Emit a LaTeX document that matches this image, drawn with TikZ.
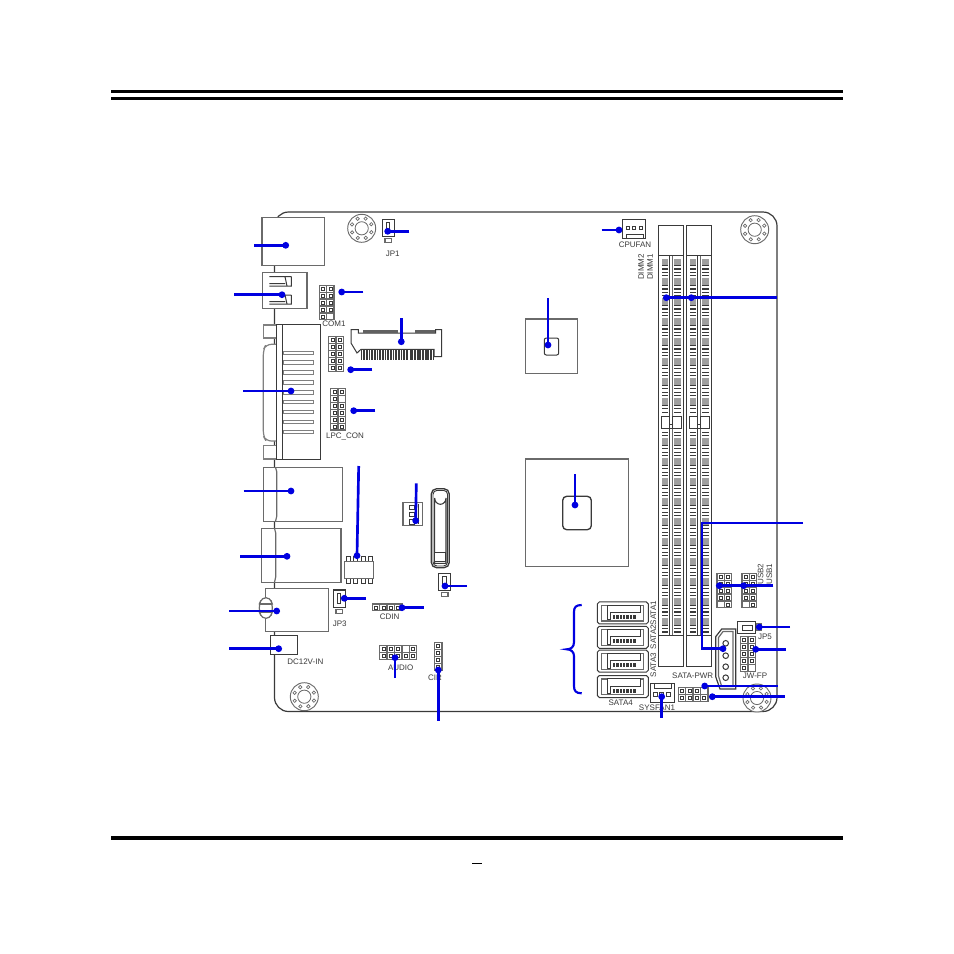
\documentclass[tikz,border=0pt]{standalone}
\usepackage{fontspec}
\setmainfont{Liberation Sans}
\definecolor{ln}{HTML}{3A3A3A}
\definecolor{gl}{HTML}{6A6A6A}
\definecolor{lead}{HTML}{0000E0}
\tikzset{
  part/.style={draw=ln,line width=0.75pt,fill=white},
  partg/.style={draw=gl,line width=0.9pt,fill=white},
  leadline/.style={draw=lead,line width=2pt},
  lbl/.style={font=\fontsize{6}{6}\selectfont,text=ln,inner sep=0pt},
  pinbox/.style={draw=ln,line width=0.55pt,fill=white},
  pincell/.style={draw=gl,line width=1pt,fill=white}
}
\newcommand{\hdrblock}[5]{%
  \foreach \c in {0,...,#3}{\foreach \r in {0,...,#4}{
    \draw[pincell] ({#1+\c*7.4},{#2+\r*6.9}) rectangle ++(7.4,6.9);
    \draw[pinbox] ({#1+\c*7.4+2.2},{#2+\r*6.9+2}) rectangle ++(3,3);
  }}
  \foreach \c/\r in {#5}{
    \fill[white] ({#1+\c*7.4+1},{#2+\r*6.9+1}) rectangle ++(5.4,4.9);
  }
}
\newcommand{\mhole}[2]{%
  \draw[part,draw=gl,line width=0.7pt] (#1,#2) circle (14);
  \draw[part,draw=gl,line width=0.6pt] (#1,#2) circle (6.6);
  \foreach \a in {0,45,...,315}{\draw[part,draw=gl,line width=0.5pt] ({#1+10.4*cos(\a+22)},{#2+10.4*sin(\a+22)}) circle (1.7);}
}
\newcommand{\jumper}[2]{% x,y of the top-left of a 12x17 jumper
  \draw[partg,draw=ln] (#1,#2) rectangle ++(12,17.5);
  \draw[part] ({#1+4},{#2+3.5}) rectangle ++(3.6,10);
  \draw[partg] ({#1+2.7},{#2+19.5}) rectangle ++(6.5,3.6);
}
\newcommand{\satabox}[2]{%
  \begin{scope}[shift={(#1,#2)}]
    \draw[part] (0,2)--(2,0)--(49,0)--(51,2)--(51,20)--(49,22)--(2,22)--(0,20)--cycle;
    \draw[partg,fill=none] (4.5,3.5)--(4.5,19)--(46.5,19)--(46.5,3.5)--cycle;
    \draw[part] (10,3.3)--(42.7,3.3)--(42.7,10.5)--(12.7,10.5)--(12.7,18)--(10,18)--cycle;
    \foreach \i in {0,...,6}{\fill[ln] ({15.4+\i*3.4},13) rectangle ++(2.4,4);}
  \end{scope}
}
\newcommand{\dimmslot}[1]{%
  \begin{scope}[shift={(#1,0)}]
    \draw[part] (0,225) rectangle (25.4,666);
    \draw[part] (0,255.7)--(25.4,255.7);
    \draw[part] (0,635)--(25.4,635);
    \draw[ln,line width=1pt] (11,255.7)--(11,635);
    \draw[gl,line width=0.8pt] (14.4,255.7)--(14.4,635);
    \foreach \i in {0,...,113}{
      \pgfmathsetmacro\yy{258.5+3.33*\i}
      \pgfmathtruncatemacro\gg{mod(\i,6)<2?1:0}
      \pgfmathtruncatemacro\sk{and(\yy>414,\yy<428.5)?1:0}
      \ifnum\sk=0
        \ifnum\gg=1
          \fill[gray!75] (3.4,\yy) rectangle ++(6.6,3.33);
          \fill[gray!75] (15.4,\yy) rectangle ++(7,3.33);
        \else
          \fill[ln] (3.4,\yy) rectangle ++(6.6,1.1);
          \fill[ln] (15.4,\yy) rectangle ++(7,1.1);
        \fi
      \fi
    }
    \draw[part] (2.7,416.2) rectangle (11.3,428);
    \draw[part] (14,416.2) rectangle (22.7,428);
    \draw[part] (11,424) rectangle (14,428);
  \end{scope}
}
\newcommand{\leader}[5]{% name, dot x,y, free x,y
  \coordinate (#1d) at (#2,#3);
  \coordinate (#1f) at (#4,#5);
  \draw[leadline] (#1f)--(#1d);
  \fill[lead] (#1d) circle (3.4);
}
\begin{document}
\begin{tikzpicture}[x=0.75pt,y=-0.75pt]
\useasboundingbox (0,0) rectangle (954,954);
\fill[white] (0,0) rectangle (954,954);
% page rules
\fill[black] (111,90) rectangle (843,92.8);
\fill[black] (111,97) rectangle (843,99.8);
\fill[black] (111,835.8) rectangle (843,840);
\fill[black] (472,862.8) rectangle (482,864);
% board
\draw[ln,line width=0.9pt,rounded corners=10.5pt] (274.5,212) rectangle (777,711.5);
% mount holes
\mhole{361.7}{228.3}\mhole{754.7}{229.7}\mhole{304.3}{696.7}\mhole{757}{698}
% HDMI
\draw[partg] (262,217.3) rectangle (324.7,265.3);
% USB
\draw[partg] (262.7,272.3) rectangle (307,308.7);
\draw[part,fill=none] (291.3,276.7)--(269.3,276.7) (269.3,283.5)--(285,283.5) (285,276.7)--(287,286)--(269.3,286) (291.3,276.7)--(291.3,286)--(287,286);
\draw[part,fill=none] (291.3,295)--(269.3,295)   (269.3,301.5)--(285,301.5) (285,295)--(287,304)--(269.3,304) (291.3,295)--(291.3,304)--(287,304);
% VGA
\draw[partg,draw=gray,rounded corners=4pt] (276.7,344.3)--(266,344.3)--(263.3,350)--(263.3,436)--(266,441)--(276.7,441);
\draw[partg,draw=gray] (263.3,325) rectangle (281.7,338);
\draw[partg,draw=gray] (263.3,445.7) rectangle (281.7,459);
\draw[part] (276.7,324.3) rectangle (320.7,459.7);
\draw[part] (282,324.3)--(282,459.7);
\foreach \i in {0,...,8}{\draw[partg,draw=gray,line width=0.7pt] (283.3,{351+9.87*\i}) rectangle ++(30.4,3.6);}
% LAN
\draw[partg] (263.3,467.3) rectangle (342.3,521.3);
\draw[partg,fill=none] (275.5,467.3)--(276.8,472)--(276.8,516)--(275.5,521.3);
\draw[partg] (261.7,528.3) rectangle (341,582.3);
\draw[partg,fill=none] (274.5,528.3)--(275.7,533)--(275.7,577)--(274.5,582.3);
% Audio jack
\draw[partg] (265.3,588.3) rectangle (328.3,631.3);
\draw[partg,rounded corners=3pt] (262,597.7)--(270,597.7)--(272.3,604)--(272.3,612)--(270,618.3)--(262,618.3)--(259.3,612)--(259.3,604)--cycle;
\draw[partg,fill=none] (260,604)--(272,604) (260,612)--(272,612);
% DC
\draw[partg,draw=ln] (270.7,635.3) rectangle (297.3,654.3);
% jumpers
\jumper{382.3}{219.3}
\jumper{333.3}{590}
\jumper{438.8}{573.3}
% headers
\hdrblock{319.3}{285.3}{1}{4}{1/4}
\hdrblock{328.7}{336.7}{1}{4}{}
\hdrblock{330.7}{388.7}{1}{5}{1/1}
\hdrblock{372.3}{603.9}{3}{0}{}
\hdrblock{379.7}{645.6}{4}{1}{3/0}
\hdrblock{434.5}{642.6}{0}{3}{}
\hdrblock{716.9}{573.3}{1}{4}{0/4}
\hdrblock{741.9}{573.3}{1}{4}{0/4}
\hdrblock{740.5}{636.8}{1}{4}{1/4}
\hdrblock{678.3}{687.5}{3}{1}{3/0}
% mini PCIe
\draw[part] (351,329.7)--(358.3,329.7)--(358.3,333)--(435.7,333)--(435.7,329.7)--(441.7,329.7)--(441.7,356.7)--(434,356.7)--(434,349.3)--(361,349.3)--(357,353)--(351,343)--cycle;
\fill[ln!80] (363.3,329.6) rectangle (398.3,332.8);
\fill[ln!80] (415,329.6) rectangle (435,332.8);
\foreach \i in {0,...,29}{\draw[ln,line width=0.8pt] ({361.5+1.6*\i},349.3)--++(0,10.7);}
\foreach \i in {0,...,14}{\draw[ln,line width=0.8pt] ({411+1.6*\i},349.3)--++(0,10.7);}
% SoCs
\draw[partg] (525.7,319) rectangle (577.3,373.3);
\draw[part,rounded corners=1.5pt] (544.3,338) rectangle (558.7,355);
\draw[partg] (525.7,459) rectangle (628.3,566.7);
\draw[part,rounded corners=3pt,line width=1pt] (562.7,496.3) rectangle (591.3,529.7);
% 8-pin chip
\foreach \i in {0,...,3}{
  \draw[part] ({346.3+\i*7.4},556.7) rectangle ++(4,5);
  \draw[part] ({346.3+\i*7.4},578.3) rectangle ++(4,5.4);
}
\draw[partg] (344.3,561.7) rectangle (373.7,578.3);
% 3-pin
\draw[partg] (403,502.3) rectangle (422.3,525.3);
\foreach \yy in {505,512,519.5}{\draw[part] (409.5,\yy) rectangle ++(4.5,4.5);}
\draw[part] (418,503.5)--(418,524);
% battery holder
\draw[part,rounded corners=4pt,line width=1pt] (431.3,488.7) rectangle (449.3,567.7);
\draw[part,rounded corners=3pt,line width=0.7pt] (433,490.4) rectangle (447.6,566);
\draw[part,line width=0.8pt] (434.7,563.3)--(434.7,498) arc[start angle=180,end angle=0,x radius=5.65,y radius=6.3]--(446,563.3)--cycle;
\draw[part] (434.3,552.3) rectangle (445.7,561.7);
% DIMMs
\dimmslot{658.3}
\dimmslot{686.3}
% fans
\draw[part] (622.7,219) rectangle (645.7,238.3);
\foreach \xx in {627.7,634.3,641}{\draw[part,line width=0.55pt] ({\xx-1.5},226) rectangle ++(3,3);}
\draw[part] (626.5,234) rectangle (643.5,238.3);
\draw[part] (650.7,683.7) rectangle (674.3,702.7);
\draw[part] (654.5,683.7) rectangle (671,688);
\foreach \xx in {655.7,661.7,668.3}{\draw[part,line width=0.55pt] ({\xx-2},692.3) rectangle ++(4,4);}
% SATA
\satabox{597.3}{601.9}
\satabox{597.3}{626.3}
\satabox{597.3}{650.2}
\satabox{597.3}{675.5}
% JP5
\draw[part] (737.3,621.3) rectangle (755,633.7);
\draw[part] (742.3,625.7) rectangle (752,630);
\draw[partg] (756.3,623.3) rectangle (761.7,630.7);
% SATA-PWR
\draw[part,line width=0.9pt] (715.7,636.7)--(721.7,629)--(735.7,629)--(735.7,689)--(720,689)--(715.7,676.7)--cycle;
\draw[partg,fill=none] (718.5,637.5)--(723,631.5)--(733,631.5)--(733,686.5)--(721.7,686.5)--(718.5,676)--cycle;
\foreach \yy in {643.3,655.7,666.7,677.7}{\draw[part] (725.7,\yy) circle (2.8);}
% labels
\node[lbl] (tJPa) at (392.7,254) {JP1};
\node[lbl] (tCOM) at (334,324) {COM1};
\node[lbl] (tLPC) at (345,436) {LPC\_CON};
\node[lbl] (tJPc) at (339.7,624) {JP3};
\node[lbl] (tCDIN) at (389.7,617) {CDIN};
\node[lbl] (tDC) at (305.3,661.3) {DC12V-IN};
\node[lbl] (tAUD) at (400.7,668) {AUDIO};
\node[lbl] (tCIR) at (435,678) {CIR};
\node[lbl] (tCPUF) at (635,245) {CPUFAN};
\node[lbl,rotate=90] (tDa) at (641,267) {DIMM2};
\node[lbl,rotate=90] (tDb) at (650,267) {DIMM1};
\node[lbl,rotate=90] (tSa) at (653.3,613) {SATA1};
\node[lbl,rotate=90] (tSb) at (653.3,637) {SATA2};
\node[lbl,rotate=90] (tSc) at (653.3,665) {SATA3};
\node[lbl] (tSd) at (620.7,702.7) {SATA4};
\node[lbl,rotate=90] (tUa) at (760.7,574) {USB2};
\node[lbl,rotate=90] (tUb) at (769.3,574) {USB1};
\node[lbl] (tJPe) at (765,636.3) {JP5};
\node[lbl] (tJW) at (755,675.7) {JW-FP};
\node[lbl] (tPWR) at (692.7,675.7) {SATA-PWR};
\node[lbl] (tSYS) at (657,707.3) {SYSFAN1};
% leaders
\leader{a}{285.7}{245.3}{254}{245.3}
\leader{b}{282}{294.7}{234.3}{294.7}
\leader{c}{387.7}{231.3}{409.3}{231.3}
\leader{e}{341.7}{292}{363.3}{292}
\leader{g}{401.3}{341.7}{401.3}{318}
\leader{h}{350.7}{369.7}{372.3}{369.7}
\leader{i}{353.7}{410.7}{375.3}{410.7}
\leader{j}{291}{391}{243.3}{391}
\leader{k}{291}{491}{243.7}{491}
\leader{l}{287}{556.3}{240}{556.3}
\leader{m}{276.7}{611}{229}{611}
\leader{n}{278.7}{648.7}{229}{648.7}
\leader{o}{357}{555.7}{358.7}{466}
\leader{q}{415.7}{520.7}{416.3}{483.3}
\leader{s}{445}{586}{467}{586}
\leader{t}{344.3}{598.3}{366}{598.3}
\leader{u}{402}{607.7}{423.7}{607.7}
\leader{v}{395}{657.7}{395}{678}
\leader{w}{438.3}{670}{438.3}{720.7}
\leader{x}{619}{230}{601.7}{230}
\leader{y}{548}{345}{548}{298}
\leader{z}{575}{505}{575}{474}
\leader{aa}{666.3}{297.7}{777.3}{297.7}
\fill[lead] (691.3,297.7) circle (3.4);
\coordinate (rb) at (803,523);
\coordinate (rc) at (702,523);
\coordinate (rd) at (702,648.7);
\coordinate (re) at (723,648.7);
\draw[leadline] (rb)--(rc)--(rd)--(re);
\fill[lead] (re) circle (3.4);
\leader{ab}{719.3}{585.7}{773.3}{585.7}
\fill[lead] (743.7,585.7) circle (3.4);
\leader{ac}{759.3}{627}{790}{627}
\leader{ad}{755.7}{649.3}{785.7}{649.3}
\leader{ae}{704.7}{686}{777.7}{686}
\leader{af}{712.3}{696.7}{784.7}{696.7}
\leader{ag}{661.7}{696.7}{661.7}{717.7}
% brace
\draw[lead,line width=1.6pt] (581.7,605) .. controls (576,605) and (574,607) .. (574,612)
  -- (574,642) .. controls (574,647) and (571,649.3) .. (566.7,649.3)
  .. controls (571,649.3) and (574,652) .. (574,656)
  -- (574,686) .. controls (574,691) and (576,693.3) .. (581.7,693.3);
\end{tikzpicture}
\end{document}
